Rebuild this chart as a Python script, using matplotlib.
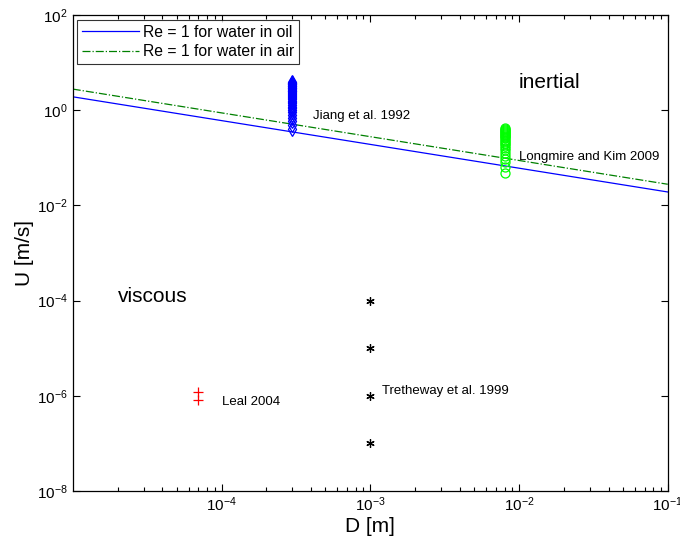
import matplotlib
matplotlib.use('Agg')
import matplotlib.pyplot as plt
import matplotlib.ticker as mtick

plt.rcParams['font.family'] = ['Liberation Sans', 'DejaVu Sans']
plt.rcParams['mathtext.default'] = 'regular'

#####################################################################
# data:
D_line = [1e-5, 1e-1]
U_oil = [1.92, 0.0192]          # Re = 1, water in oil
U_air = [2.79, 0.0279]          # Re = 1, water in air

D_jiang = 3e-4
U_jiang = [0.4, 0.5, 0.6, 0.7, 0.8, 0.9, 1.0, 1.1, 1.2, 1.3, 1.4, 1.5,
           1.6, 1.7, 1.8, 1.9, 2.0, 2.1, 2.2, 2.3, 2.4, 2.5, 2.6, 2.7,
           2.8, 2.9, 3.0, 3.1, 3.2, 3.3, 3.4, 3.5, 3.6, 3.7, 3.8, 3.9]

D_longmire = 8e-3
U_longmire = [0.048, 0.064, 0.080, 0.096, 0.112, 0.128, 0.144, 0.160,
              0.176, 0.192, 0.208, 0.224, 0.240, 0.256, 0.272, 0.288,
              0.304, 0.320, 0.336, 0.352, 0.368, 0.384, 0.400, 0.416]

D_tretheway = 1e-3
U_tretheway = [1e-4, 1e-5, 1e-6, 1e-7]

D_leal = 7e-5
U_leal = [1.2e-6, 0.8e-6]

#####################################################################
# plot:
fig = plt.figure(figsize=(6.8, 5.39), dpi=100)
ax = fig.add_axes([0.107, 0.089, 0.875, 0.883])

ax.loglog(D_line, U_oil, '-', color='#0000ff', lw=0.9, label='Re = 1 for water in oil')
ax.loglog(D_line, U_air, '-.', color='#008000', lw=0.9, label='Re = 1 for water in air')

ax.plot([D_jiang]*len(U_jiang), U_jiang, 'd', mfc='none', mec='#0000ff', ms=7, mew=0.9)
ax.plot([D_longmire]*len(U_longmire), U_longmire, 'o', mfc='none', mec='#00ff00', ms=6.5, mew=0.9)
ax.plot([D_tretheway]*len(U_tretheway), U_tretheway, marker=(6, 2, 0), ls='none',
        color='k', ms=6, mew=0.9)
ax.plot([D_leal]*len(U_leal), U_leal, '+', color='#ff0000', ms=7, mew=0.9)

# annotations:
ax.text(4.1e-4, 0.76, 'Jiang et al. 1992', fontsize=9.5, va='center')
ax.text(1.0e-2, 0.105, 'Longmire and Kim 2009', fontsize=9.5, va='center')
ax.text(1.0e-4, 7.4e-7, 'Leal 2004', fontsize=9.5, va='center')
ax.text(1.2e-3, 1.25e-6, 'Tretheway et al. 1999', fontsize=9.5, va='center')
ax.text(2.0e-5, 1.2e-4, 'viscous', fontsize=15, va='center')
ax.text(1.0e-2, 3.9, 'inertial', fontsize=15, va='center')

#####################################################################
# format:
ax.set_xlim(1e-5, 1e-1)
ax.set_ylim(1e-8, 1e2)
ax.xaxis.set_minor_locator(mtick.LogLocator(base=10, subs=range(2, 10), numticks=20))
ax.xaxis.set_minor_formatter(mtick.NullFormatter())
ax.set_xticks([1e-4, 1e-3, 1e-2, 1e-1])
ax.set_yticks([1e-8, 1e-6, 1e-4, 1e-2, 1e0, 1e2])
ax.yaxis.set_minor_locator(mtick.NullLocator())
ax.tick_params(which='both', direction='in', top=True, right=True, labelsize=11, width=0.8)
ax.tick_params(which='major', length=5)
ax.tick_params(which='minor', length=3)
for s in ax.spines.values():
    s.set_linewidth(0.9)

ax.set_xlabel('D [m]', fontsize=15, labelpad=2)
ax.set_ylabel('U [m/s]', fontsize=15, labelpad=2)

leg = ax.legend(loc='upper left', fontsize=11.3, frameon=True, fancybox=False,
                handlelength=3.6, borderpad=0.3, labelspacing=0.3, borderaxespad=0.3,
                handletextpad=0.3)
leg.get_frame().set_edgecolor('k')
leg.get_frame().set_linewidth(0.8)

fig.savefig('out.png', dpi=100)
